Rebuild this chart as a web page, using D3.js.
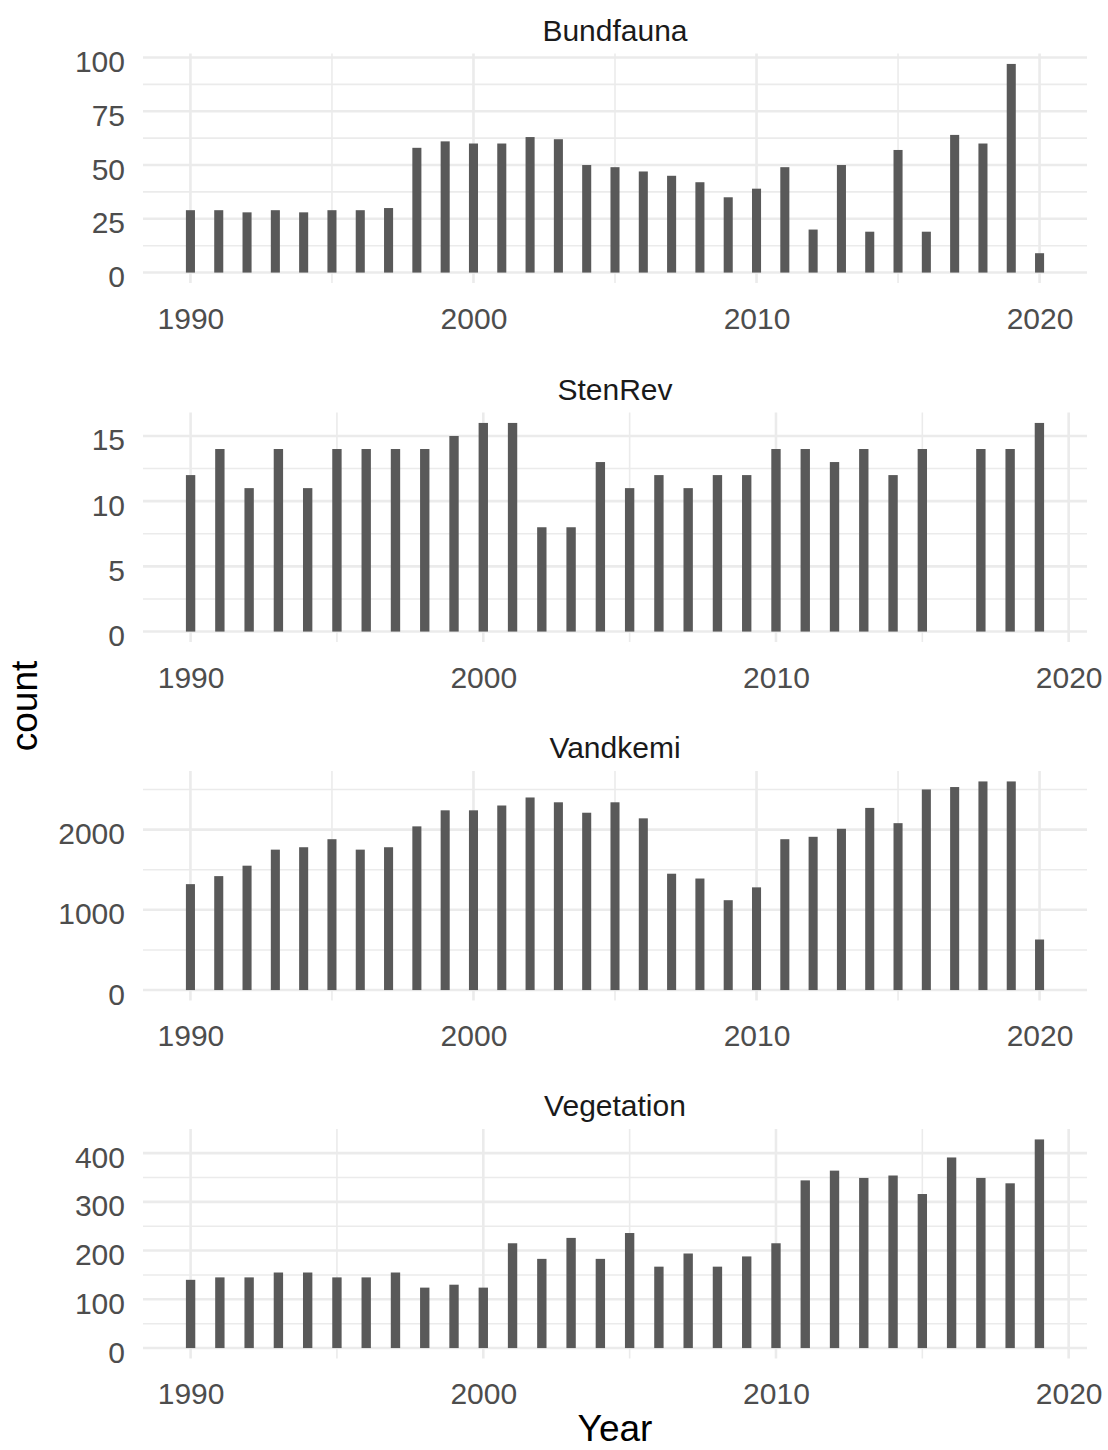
<!DOCTYPE html>
<html>
<head>
<meta charset="utf-8">
<script src="https://cdn.jsdelivr.net/npm/d3@7"></script>
<style>
  html, body { margin: 0; padding: 0; background: #ffffff; }
  svg { display: block; font-family: "Liberation Sans", Arial, Helvetica, sans-serif; }
</style>
</head>
<body>
<svg id="chart" width="1108" height="1450"></svg>
<script>
// ---- data: yearly record counts per survey type ----
const facetNames = ["Bundfauna", "StenRev", "Vandkemi", "Vegetation"];

const bundfaunaYears = [1990, 1991, 1992, 1993, 1994, 1995, 1996, 1997, 1998, 1999,
  2000, 2001, 2002, 2003, 2004, 2005, 2006, 2007, 2008, 2009,
  2010, 2011, 2012, 2013, 2014, 2015, 2016, 2017, 2018, 2019, 2020];
const bundfaunaCounts = [29, 29, 28, 29, 28, 29, 29, 30, 58, 61,
  60, 60, 63, 62, 50, 49, 47, 45, 42, 35,
  39, 49, 20, 50, 19, 57, 19, 64, 60, 97, 9];

const stenRevYears = [1990, 1991, 1992, 1993, 1994, 1995, 1996, 1997, 1998, 1999,
  2000, 2001, 2002, 2003, 2004, 2005, 2006, 2007, 2008, 2009,
  2010, 2011, 2012, 2013, 2014, 2015, 2017, 2018, 2019];
const stenRevCounts = [12, 14, 11, 14, 11, 14, 14, 14, 14, 15,
  16, 16, 8, 8, 13, 11, 12, 11, 12, 12,
  14, 14, 13, 14, 12, 14, 14, 14, 16];

const vandkemiYears = [1990, 1991, 1992, 1993, 1994, 1995, 1996, 1997, 1998, 1999,
  2000, 2001, 2002, 2003, 2004, 2005, 2006, 2007, 2008, 2009,
  2010, 2011, 2012, 2013, 2014, 2015, 2016, 2017, 2018, 2019, 2020];
const vandkemiCounts = [1320, 1420, 1550, 1750, 1780, 1880, 1750, 1780, 2040, 2240,
  2240, 2300, 2400, 2340, 2210, 2340, 2140, 1450, 1390, 1120,
  1280, 1880, 1910, 2010, 2270, 2080, 2500, 2530, 2600, 2600, 630];

const vegetationYears = [1990, 1991, 1992, 1993, 1994, 1995, 1996, 1997, 1998, 1999,
  2000, 2001, 2002, 2003, 2004, 2005, 2006, 2007, 2008, 2009,
  2010, 2011, 2012, 2013, 2014, 2015, 2016, 2017, 2018, 2019];
const vegetationCounts = [140, 145, 145, 155, 155, 145, 145, 155, 124, 130,
  124, 215, 183, 226, 183, 236, 167, 194, 167, 188,
  215, 344, 364, 349, 354, 316, 391, 349, 338, 428];

// tick labels
const xTickYears = [1990, 2000, 2010, 2020];
const yTicksBundfauna = [0, 25, 50, 75, 100];
const yTicksStenRev = [0, 5, 10, 15];
const yTicksVandkemi = [0, 1000, 2000];
const yTicksVegetation = [0, 100, 200, 300, 400];

const xAxisTitle = "Year";
const yAxisTitle = "count";

const facets = [
  { name: facetNames[0], years: bundfaunaYears, counts: bundfaunaCounts, yTicks: yTicksBundfauna },
  { name: facetNames[1], years: stenRevYears, counts: stenRevCounts, yTicks: yTicksStenRev },
  { name: facetNames[2], years: vandkemiYears, counts: vandkemiCounts, yTicks: yTicksVandkemi },
  { name: facetNames[3], years: vegetationYears, counts: vegetationCounts, yTicks: yTicksVegetation }
];

// ---- layout ----
const panelLeft = 143, panelRight = 1087;
const panelHeight = 229.5;
const panelTops = [53.5, 412.5, 771, 1129];
const barWidth = 0.32;         // in years
const expandFrac = 0.05;       // continuous-scale padding on each side

const gridColor = "#EBEBEB";
const barColor = "#595959";
const tickTextColor = "#4D4D4D";
const stripTextColor = "#1A1A1A";
const tickFont = 30;
const titleFont = 37;

const svg = d3.select("#chart");

facets.forEach((f, i) => {
  const top = panelTops[i];
  const bottom = top + panelHeight;
  const data = f.years.map((yr, j) => ({ year: yr, count: f.counts[j] }));

  // x scale: bar extents plus 5% padding
  const x0 = d3.min(f.years) - barWidth / 2;
  const x1 = d3.max(f.years) + barWidth / 2;
  const xPad = (x1 - x0) * expandFrac;
  const x = d3.scaleLinear().domain([x0 - xPad, x1 + xPad]).range([panelLeft, panelRight]);

  // y scale: 0..max plus 5% padding
  const yMax = d3.max(f.counts);
  const yPad = yMax * expandFrac;
  const y = d3.scaleLinear().domain([-yPad, yMax + yPad]).range([bottom, top]);

  const inX = v => v >= x.domain()[0] && v <= x.domain()[1];
  const inY = v => v >= y.domain()[0] && v <= y.domain()[1];

  // minor breaks halfway between major ones (extended one step each side)
  const xStep = xTickYears[1] - xTickYears[0];
  const xMinor = [xTickYears[0] - xStep / 2].concat(xTickYears.map(v => v + xStep / 2)).filter(inX);
  const yStep = f.yTicks[1] - f.yTicks[0];
  const yMinor = f.yTicks.map(v => v + yStep / 2).filter(inY);
  const xMajor = xTickYears.filter(inX);
  const yMajor = f.yTicks.filter(inY);

  const g = svg.append("g").attr("class", "panel");

  // minor grid
  g.append("g").selectAll("line.hminor").data(yMinor).join("line")
    .attr("x1", panelLeft).attr("x2", panelRight)
    .attr("y1", d => y(d)).attr("y2", d => y(d))
    .attr("stroke", gridColor).attr("stroke-width", 1.6);
  g.append("g").selectAll("line.vminor").data(xMinor).join("line")
    .attr("x1", d => x(d)).attr("x2", d => x(d))
    .attr("y1", top).attr("y2", bottom)
    .attr("stroke", gridColor).attr("stroke-width", 1.6);

  // major grid
  g.append("g").selectAll("line.hmajor").data(yMajor).join("line")
    .attr("x1", panelLeft).attr("x2", panelRight)
    .attr("y1", d => y(d)).attr("y2", d => y(d))
    .attr("stroke", gridColor).attr("stroke-width", 2.6);
  g.append("g").selectAll("line.vmajor").data(xMajor).join("line")
    .attr("x1", d => x(d)).attr("x2", d => x(d))
    .attr("y1", top).attr("y2", bottom)
    .attr("stroke", gridColor).attr("stroke-width", 2.6);

  // bars
  g.append("g").selectAll("rect").data(data).join("rect")
    .attr("x", d => x(d.year - barWidth / 2))
    .attr("width", d => x(d.year + barWidth / 2) - x(d.year - barWidth / 2))
    .attr("y", d => y(d.count))
    .attr("height", d => y(0) - y(d.count))
    .attr("fill", barColor);

  // x axis labels
  const xAxis = g.append("g")
    .attr("transform", `translate(0,${bottom})`)
    .call(d3.axisBottom(x).tickValues(xMajor).tickFormat(d3.format("d")).tickSize(0));
  xAxis.select(".domain").remove();
  xAxis.selectAll("text")
    .attr("y", 45.5).attr("dy", null)
    .attr("fill", tickTextColor)
    .style("font-size", tickFont + "px")
    .style("font-family", "'Liberation Sans', Arial, sans-serif");

  // y axis labels
  const yAxis = g.append("g")
    .attr("transform", `translate(${panelLeft},0)`)
    .call(d3.axisLeft(y).tickValues(yMajor).tickFormat(d3.format("d")).tickSize(0));
  yAxis.select(".domain").remove();
  yAxis.selectAll("text")
    .attr("x", -18).attr("y", 14).attr("dy", null)
    .attr("fill", tickTextColor)
    .style("font-size", tickFont + "px")
    .style("font-family", "'Liberation Sans', Arial, sans-serif");

  // facet strip title
  g.append("text")
    .attr("x", (panelLeft + panelRight) / 2)
    .attr("y", top - 13)
    .attr("text-anchor", "middle")
    .attr("fill", stripTextColor)
    .style("font-size", tickFont + "px")
    .text(f.name);
});

// axis titles
svg.append("text")
  .attr("x", (panelLeft + panelRight) / 2)
  .attr("y", 1441)
  .attr("text-anchor", "middle")
  .attr("fill", "#000000")
  .style("font-size", titleFont + "px")
  .text(xAxisTitle);

const midY = (panelTops[0] + panelTops[3] + panelHeight) / 2;
svg.append("text")
  .attr("transform", `translate(37,${midY}) rotate(-90)`)
  .attr("text-anchor", "middle")
  .attr("fill", "#000000")
  .style("font-size", titleFont + "px")
  .text(yAxisTitle);
</script>
</body>
</html>
